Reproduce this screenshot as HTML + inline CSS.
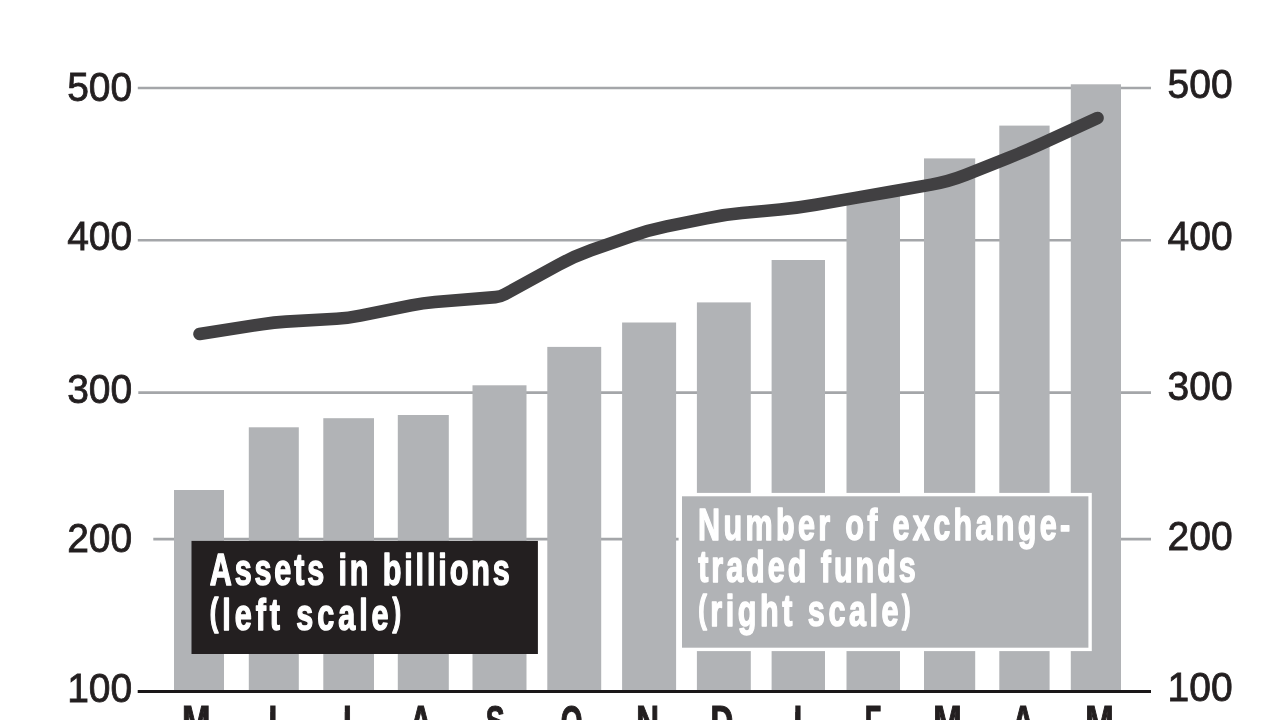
<!DOCTYPE html>
<html lang="en"><head><meta charset="utf-8"><title>Exchange-traded funds chart</title>
<style>
html,body{margin:0;padding:0;background:#fff;width:1280px;height:720px;overflow:hidden}
svg{display:block;filter:blur(.7px);font-family:"Liberation Sans",sans-serif}
.num{font-size:40px;fill:#231f20;stroke:#231f20;stroke-width:.8px}
.leg{font-size:45px;font-weight:bold;fill:#fff;stroke:#fff;stroke-width:1.5px;stroke-linejoin:round}
.par{font-size:38px}
.mon{font-size:45px;font-weight:bold;fill:#231f20;stroke:#231f20;stroke-width:1.2px}
</style></head><body>
<svg width="1280" height="760" viewBox="0 0 1280 760">
<rect width="1280" height="760" fill="#fff"/>
<g stroke="#a4a6a9" stroke-width="2.6">
<line x1="137.8" y1="88" x2="1151" y2="88"/>
<line x1="137.8" y1="240.3" x2="1151" y2="240.3"/>
<line x1="138.3" y1="392.6" x2="1151" y2="392.6"/>
<line x1="153.3" y1="539.1" x2="1151" y2="539.1"/>
</g>
<g fill="#b1b3b6">
<rect x="174" y="490" width="50.0" height="201.5"/>
<rect x="248.8" y="427.3" width="50.0" height="264.2"/>
<rect x="323.3" y="418.2" width="50.7" height="273.3"/>
<rect x="397.8" y="415" width="51.0" height="276.5"/>
<rect x="472.5" y="385.3" width="54.0" height="306.2"/>
<rect x="547.3" y="346.9" width="53.9" height="344.6"/>
<rect x="622.1" y="322.5" width="54.0" height="369.0"/>
<rect x="696.9" y="302.4" width="53.9" height="389.1"/>
<rect x="771.6" y="260" width="53.4" height="431.5"/>
<rect x="846.5" y="196" width="53.5" height="495.5"/>
<rect x="924" y="158.4" width="51.2" height="533.1"/>
<rect x="999.3" y="125.6" width="50.3" height="565.9"/>
<rect x="1070.8" y="84.3" width="50.2" height="607.2"/>
</g>
<line x1="137.7" y1="691.5" x2="1151" y2="691.5" stroke="#1a1718" stroke-width="3"/>
<rect x="191.5" y="540.9" width="346.4" height="113.1" fill="#231f20"/>
<rect x="680.3" y="494.6" width="409.8" height="154.8" fill="#b1b3b6" stroke="#fff" stroke-width="3.4"/>
<path d="M199.5 334.0 L262.1 324.2 Q274.0 322.3 286.0 321.6 L336.5 318.7 Q348.5 318.0 360.3 315.6 L411.2 305.4 Q423.0 303.0 435.0 302.0 L495.5 297.1 Q500.5 296.7 504.9 294.3 L558.2 265.0 Q574.0 256.3 591.0 250.3 L632.0 236.0 Q649.0 230.0 666.6 226.4 L706.4 218.3 Q724.0 214.7 741.9 213.1 L780.1 209.5 Q798.0 207.9 815.7 204.8 L855.3 197.9 Q873.0 194.8 890.7 191.7 L931.3 184.6 Q949.0 181.5 965.7 174.9 L1007.8 158.1 Q1024.5 151.5 1040.9 144.0 L1097.5 118.0" fill="none" stroke="#414042" stroke-width="12.6" stroke-linecap="round" stroke-linejoin="round"/>
<g class="num">
<text transform="translate(132.2 101.3) scale(0.975 1)" text-anchor="end">500</text>
<text transform="translate(132.2 250.2) scale(0.975 1)" text-anchor="end">400</text>
<text transform="translate(132.2 402.7) scale(0.975 1)" text-anchor="end">300</text>
<text transform="translate(132.2 551.8) scale(0.975 1)" text-anchor="end">200</text>
<text transform="translate(132.2 701.7) scale(0.975 1)" text-anchor="end">100</text>
<text transform="translate(1167.6 98.4) scale(0.975 1)">500</text>
<text transform="translate(1167.6 250) scale(0.975 1)">400</text>
<text transform="translate(1167.6 400) scale(0.975 1)">300</text>
<text transform="translate(1167.6 550) scale(0.975 1)">200</text>
<text transform="translate(1167.6 701.2) scale(0.975 1)">100</text>
</g>
<text class="leg" transform="translate(209.7 584.9) scale(0.68 1)" textLength="441.2" lengthAdjust="spacing">Assets in billions</text>
<text class="leg" transform="translate(209.7 629.5) scale(0.68 1)" textLength="281.6" lengthAdjust="spacing"><tspan class="par" dy="-4.2">(</tspan><tspan dy="4.2">left scale</tspan><tspan class="par" dy="-4.2">)</tspan></text>
<text class="leg" transform="translate(698 540.2) scale(0.68 1)" textLength="547.5" lengthAdjust="spacing">Number of exchange-</text>
<text class="leg" transform="translate(698.2 582.3) scale(0.68 1)" textLength="320.0" lengthAdjust="spacing">traded funds</text>
<text class="leg" transform="translate(698.2 626.1) scale(0.68 1)" textLength="312.4" lengthAdjust="spacing"><tspan class="par" dy="-4.2">(</tspan><tspan dy="4.2">right scale</tspan><tspan class="par" dy="-4.2">)</tspan></text>
<text class="mon" transform="translate(196.25 737) scale(0.76 1)" text-anchor="middle">M</text>
<text class="mon" transform="translate(268.50 737) scale(0.7 1)" text-anchor="middle">J</text>
<rect x="263.0" y="700" width="7.2" height="12" fill="#fff"/>
<text class="mon" transform="translate(343.10 737) scale(0.7 1)" text-anchor="middle">J</text>
<rect x="337.6" y="700" width="7.2" height="12" fill="#fff"/>
<text class="mon" transform="translate(420.80 737) scale(0.7 1)" text-anchor="middle">A</text>
<text class="mon" transform="translate(495.10 737) scale(0.63 1)" text-anchor="middle">S</text>
<text class="mon" transform="translate(571.50 737) scale(0.62 1)" text-anchor="middle">O</text>
<text class="mon" transform="translate(647.60 737) scale(0.7 1)" text-anchor="middle">N</text>
<text class="mon" transform="translate(721.85 737) scale(0.7 1)" text-anchor="middle">D</text>
<text class="mon" transform="translate(793.60 737) scale(0.7 1)" text-anchor="middle">J</text>
<rect x="788.1" y="700" width="7.2" height="12" fill="#fff"/>
<text class="mon" transform="translate(872.90 737) scale(0.6 1)" text-anchor="middle">F</text>
<text class="mon" transform="translate(947.40 737) scale(0.76 1)" text-anchor="middle">M</text>
<text class="mon" transform="translate(1023.00 737) scale(0.7 1)" text-anchor="middle">A</text>
<text class="mon" transform="translate(1099.60 737) scale(0.76 1)" text-anchor="middle">M</text>
</svg></body></html>
